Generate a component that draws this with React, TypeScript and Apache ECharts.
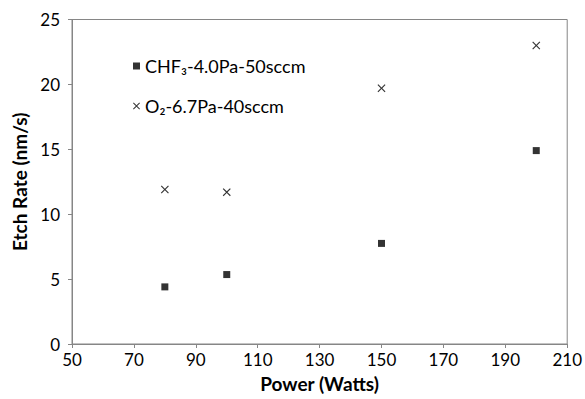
import React, { useEffect, useRef } from "react";
import * as echarts from "echarts";

const powerWatts = [80, 100, 150, 200];
const chf3Rates = [4.4, 5.35, 7.75, 14.9];
const o2Rates = [11.9, 11.7, 19.7, 23.0];
const seriesNames = ["CHF₃-4.0Pa-50sccm", "O₂-6.7Pa-40sccm"];
const xTitle = "Power (Watts)";
const yTitle = "Etch Rate (nm/s)";

const CROSS =
  "path://M0,1L1,0L5,4L9,0L10,1L6,5L10,9L9,10L5,6L1,10L0,9L4,5Z";

export default function App() {
  const ref = useRef<HTMLDivElement>(null);
  useEffect(() => {
    if (!ref.current) return;
    const chart = echarts.init(ref.current, undefined, { renderer: "svg" });
    const font = "Lato, 'Open Sans', sans-serif";
    chart.setOption({
      animation: false,
      backgroundColor: "#fff",
      textStyle: { fontFamily: font },
      grid: { left: 72, right: 14, top: 19.5, bottom: 55, show: true, borderColor: "#868686", borderWidth: 1 },
      legend: {
        orient: "vertical",
        left: 128,
        top: 52,
        itemGap: 22,
        itemWidth: 7,
        itemHeight: 7,
        textStyle: { fontSize: 18, color: "#000", fontFamily: font },
        data: seriesNames,
      },
      xAxis: {
        type: "value",
        min: 50,
        max: 210,
        interval: 20,
        name: xTitle,
        nameLocation: "middle",
        nameGap: 30,
        nameTextStyle: { fontSize: 19, fontWeight: "bold", color: "#000", fontFamily: font },
        axisLine: { show: true, lineStyle: { color: "#868686" } },
        axisTick: { show: true, inside: false, length: 4, lineStyle: { color: "#868686" } },
        axisLabel: { fontSize: 17, color: "#000", margin: 7, fontFamily: font },
        splitLine: { show: false },
      },
      yAxis: {
        type: "value",
        min: 0,
        max: 25,
        interval: 5,
        name: yTitle,
        nameLocation: "middle",
        nameGap: 40,
        nameTextStyle: { fontSize: 19, fontWeight: "bold", color: "#000", fontFamily: font },
        axisLine: { show: true, lineStyle: { color: "#868686" } },
        axisTick: { show: true, inside: false, length: 4, lineStyle: { color: "#868686" } },
        axisLabel: { fontSize: 17, color: "#000", margin: 12, fontFamily: font },
        splitLine: { show: false },
      },
      series: [
        {
          name: seriesNames[0],
          type: "scatter",
          symbol: "rect",
          symbolSize: 7,
          itemStyle: { color: "#000" },
          data: powerWatts.map((x, i) => [x, chf3Rates[i]]),
        },
        {
          name: seriesNames[1],
          type: "scatter",
          symbol: CROSS,
          symbolSize: 8,
          itemStyle: { color: "#000" },
          data: powerWatts.map((x, i) => [x, o2Rates[i]]),
        },
      ],
    });
    return () => chart.dispose();
  }, []);
  return (
    <div
      ref={ref}
      style={{ position: "fixed", left: 0, top: 0, width: 585, height: 399, background: "#fff" }}
    />
  );
}
